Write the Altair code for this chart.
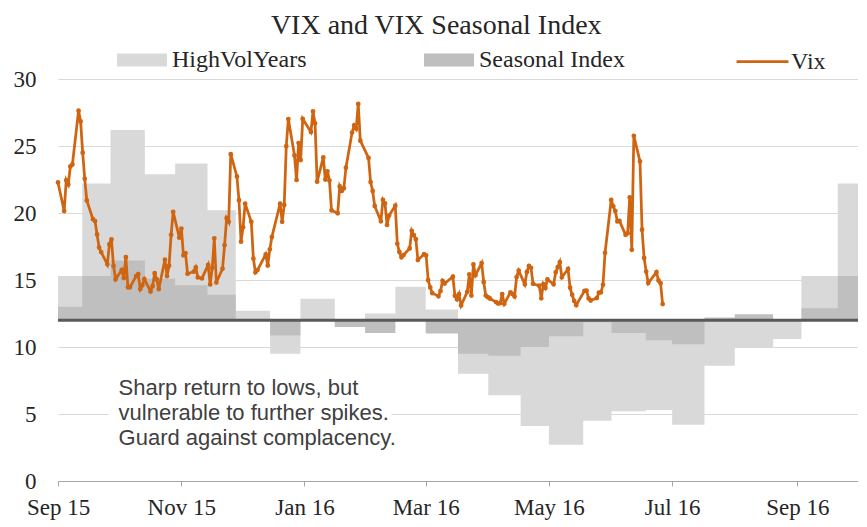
import altair as alt
import pandas as pd

# ---------------- data ----------------
# step edges for the seasonal bands (26 half-monthly steps)
band_edges = ["2015-09-01", "2015-09-13", "2015-09-27", "2015-10-14", "2015-10-29",
              "2015-11-14", "2015-11-28", "2015-12-15", "2015-12-30", "2016-01-16",
              "2016-01-31", "2016-02-15", "2016-03-01", "2016-03-17", "2016-04-01",
              "2016-04-17", "2016-05-01", "2016-05-18", "2016-06-01", "2016-06-18",
              "2016-07-01", "2016-07-17", "2016-08-01", "2016-08-20", "2016-09-03",
              "2016-09-21", "2016-10-01"]
high_vol = [15.3, 22.2, 26.2, 22.9, 23.7, 20.2, 12.7, 9.5, 13.6, 11.8,
            12.5, 14.5, 12.8, 8.0, 6.4, 4.1, 2.7, 4.5, 5.2, 5.3,
            4.2, 8.6, 10.0, 10.6, 15.3, 22.2]
seasonal = [13.0, 15.3, 16.45, 15.1, 14.6, 13.9, 12.0, 10.85, 12.0, 11.5,
            11.05, 12.0, 11.0, 9.5, 9.35, 10.0, 10.8, 11.85, 11.05, 10.5,
            10.2, 12.2, 12.45, 12.0, 12.9, 15.3]

vix_dates = [
    "2015-09-18", "2015-09-21", "2015-09-22", "2015-09-23", "2015-09-24", "2015-09-25",
    "2015-09-28", "2015-09-29", "2015-09-30",
    "2015-10-01", "2015-10-02", "2015-10-05", "2015-10-06", "2015-10-07", "2015-10-08",
    "2015-10-09", "2015-10-12", "2015-10-13", "2015-10-14", "2015-10-15", "2015-10-16",
    "2015-10-19", "2015-10-20", "2015-10-21", "2015-10-22", "2015-10-23", "2015-10-26",
    "2015-10-27", "2015-10-28", "2015-10-29", "2015-10-30",
    "2015-11-02", "2015-11-03", "2015-11-04", "2015-11-05", "2015-11-06", "2015-11-09",
    "2015-11-10", "2015-11-11", "2015-11-12", "2015-11-13", "2015-11-16", "2015-11-17",
    "2015-11-18", "2015-11-19", "2015-11-20", "2015-11-23", "2015-11-24", "2015-11-25",
    "2015-11-27", "2015-11-30",
    "2015-12-01", "2015-12-02", "2015-12-03", "2015-12-04", "2015-12-07", "2015-12-08",
    "2015-12-09", "2015-12-10", "2015-12-11", "2015-12-14", "2015-12-15", "2015-12-16",
    "2015-12-17", "2015-12-18", "2015-12-21", "2015-12-22", "2015-12-23", "2015-12-24",
    "2015-12-28", "2015-12-29", "2015-12-30", "2015-12-31",
    "2016-01-04", "2016-01-05", "2016-01-06", "2016-01-07", "2016-01-08", "2016-01-11",
    "2016-01-12", "2016-01-13", "2016-01-14", "2016-01-15", "2016-01-19", "2016-01-20",
    "2016-01-21", "2016-01-22", "2016-01-25", "2016-01-26", "2016-01-27", "2016-01-28",
    "2016-01-29",
    "2016-02-01", "2016-02-02", "2016-02-03", "2016-02-04", "2016-02-05", "2016-02-08",
    "2016-02-09", "2016-02-10", "2016-02-11", "2016-02-12", "2016-02-16", "2016-02-17",
    "2016-02-18", "2016-02-19", "2016-02-22", "2016-02-23", "2016-02-24", "2016-02-25",
    "2016-02-26", "2016-02-29",
    "2016-03-01", "2016-03-02", "2016-03-03", "2016-03-04", "2016-03-07", "2016-03-08",
    "2016-03-09", "2016-03-10", "2016-03-11", "2016-03-14", "2016-03-15", "2016-03-16",
    "2016-03-17", "2016-03-18", "2016-03-21", "2016-03-22", "2016-03-23", "2016-03-24",
    "2016-03-28", "2016-03-29", "2016-03-30", "2016-03-31",
    "2016-04-01", "2016-04-04", "2016-04-05", "2016-04-06", "2016-04-07", "2016-04-08",
    "2016-04-11", "2016-04-12", "2016-04-13", "2016-04-14", "2016-04-15", "2016-04-18",
    "2016-04-19", "2016-04-20", "2016-04-21", "2016-04-22", "2016-04-25", "2016-04-26",
    "2016-04-27", "2016-04-28", "2016-04-29",
    "2016-05-02", "2016-05-03", "2016-05-04", "2016-05-05", "2016-05-06", "2016-05-09",
    "2016-05-10", "2016-05-11", "2016-05-12", "2016-05-13", "2016-05-16", "2016-05-17",
    "2016-05-18", "2016-05-19", "2016-05-20", "2016-05-23", "2016-05-24", "2016-05-25",
    "2016-05-26", "2016-05-27", "2016-05-31",
    "2016-06-01", "2016-06-02", "2016-06-03", "2016-06-06", "2016-06-07", "2016-06-08",
    "2016-06-09", "2016-06-10", "2016-06-13", "2016-06-14", "2016-06-15", "2016-06-16",
    "2016-06-17", "2016-06-20", "2016-06-21", "2016-06-22", "2016-06-23", "2016-06-24",
    "2016-06-27", "2016-06-28", "2016-06-29", "2016-06-30",
    "2016-07-01", "2016-07-05", "2016-07-06", "2016-07-07", "2016-07-08",
]
vix_values = [
    22.28, 20.14, 22.44, 22.13, 23.47, 23.62, 27.63, 26.83, 24.50,
    22.55, 20.94, 19.54, 19.40, 18.40, 17.42, 17.08, 16.17, 17.67, 18.03, 16.05, 15.05,
    15.75, 15.14, 16.70, 14.45, 14.46, 15.29, 15.43, 14.33, 14.61, 15.07,
    14.15, 14.54, 15.51, 15.05, 14.33, 16.52, 15.29, 16.06, 18.37, 20.08, 18.16, 18.84,
    16.85, 16.99, 15.47, 15.62, 15.93, 15.19, 15.12, 16.13,
    14.67, 15.91, 18.11, 14.81, 15.84, 17.60, 19.61, 19.34, 24.39, 22.73, 20.95, 17.86,
    18.94, 20.70, 19.34, 16.60, 15.57, 15.74, 16.91, 16.08, 17.29, 18.21,
    20.70, 19.34, 20.59, 24.99, 27.01, 24.30, 22.47, 25.22, 23.95, 27.02, 26.05, 27.59,
    26.69, 22.34, 24.15, 22.50, 23.11, 22.42, 20.20,
    19.98, 21.98, 21.65, 21.84, 23.38, 26.00, 26.54, 26.29, 28.14, 25.40, 24.11, 22.31,
    21.64, 20.53, 19.38, 20.98, 20.72, 19.11, 19.81, 20.55,
    17.70, 17.09, 16.70, 16.86, 17.35, 18.67, 18.34, 18.05, 16.50, 16.92, 16.84, 14.99,
    14.44, 14.02, 13.79, 14.17, 14.94, 14.74, 15.24, 13.82, 13.56, 13.95,
    13.10, 14.12, 15.42, 13.84, 16.16, 15.36, 16.26, 14.85, 13.84, 13.72, 13.62, 13.35,
    13.24, 13.28, 13.95, 13.22, 14.08, 13.96, 13.77, 15.22, 15.70,
    14.68, 15.60, 16.05, 15.91, 14.72, 14.57, 13.63, 14.69, 14.41, 15.04, 14.68, 15.57,
    15.95, 16.33, 15.20, 15.82, 14.42, 13.90, 13.43, 13.12, 14.19,
    14.20, 13.63, 13.47, 13.65, 14.05, 14.08, 14.64, 17.03, 20.97, 20.50, 20.14, 19.37,
    19.41, 18.37, 18.48, 21.17, 17.25, 25.76, 23.85, 18.75, 16.64, 15.63,
    14.77, 15.58, 14.96, 14.76, 13.20,
]

baseline_level = 12
y_ticks = [0, 5, 10, 15, 20, 25, 30]
x_tick_dates = ["2015-09-01", "2015-11-01", "2016-01-01", "2016-03-01",
                "2016-05-01", "2016-07-01", "2016-09-01"]
note_text = ["Sharp return to lows, but", "vulnerable to further spikes.",
             "Guard against complacency."]

# ---------------- tables ----------------
bands = pd.DataFrame({
    "date": pd.to_datetime(band_edges),
    "HighVolYears": high_vol + [high_vol[-1]],
    "Seasonal Index": seasonal + [seasonal[-1]],
}).melt(id_vars="date", var_name="series", value_name="value")
bands["base"] = baseline_level

vix = pd.DataFrame({"date": pd.to_datetime(vix_dates), "Vix": vix_values, "series": "Vix"})

SERIF = "Liberation Serif"
SANS = "Liberation Sans"
ORANGE = "#cf6511"

x_main = alt.Scale(domain=[alt.DateTime(year=2015, month=9, date=1),
                           alt.DateTime(year=2016, month=10, date=1)])
x_line = alt.Scale(domain=[alt.DateTime(year=2015, month=9, date=18),
                           alt.DateTime(year=2016, month=10, date=11)])
y_sc = alt.Scale(domain=[0, 30], nice=False, zero=False)
y_ax = alt.Axis(values=y_ticks, title=None)

fill_scale = alt.Scale(domain=["HighVolYears", "Seasonal Index"], range=["#d9d9d9", "#bfbfbf"])
fill_legend = alt.Legend(
    orient="none", legendX=59, legendY=-44, direction="horizontal", title=None,
    symbolType="M-1,-0.26H1V0.26H-1Z", symbolSize=2500, symbolStrokeWidth=0,
    symbolOpacity=1, labelFont=SERIF, labelFontSize=24, labelColor="#262626",
    labelOffset=5, columnPadding=117, padding=0, labelLimit=300,
)
x_axis = alt.Axis(
    values=[alt.DateTime(year=int(d[:4]), month=int(d[5:7]), date=1) for d in x_tick_dates],
    format="%b %y", title=None, grid=False, domainColor="#a6a6a6", tickColor="#a6a6a6",
    tickSize=5, labelPadding=10, labelFont=SERIF, labelFontSize=23, labelColor="#262626",
    labelFlush=False, labelOverlap=False,
)


def band_layer(name, show_axis):
    return alt.Chart(bands).transform_filter(alt.datum.series == name).mark_area(
        interpolate="step-after"
    ).encode(
        x=alt.X("date:T", scale=x_main, axis=x_axis if show_axis else None),
        y=alt.Y("value:Q", scale=y_sc, axis=y_ax, stack=None),
        y2="base:Q",
        fill=alt.Fill("series:N", scale=fill_scale, legend=fill_legend),
    )


hv_layer = band_layer("HighVolYears", True)
si_layer = band_layer("Seasonal Index", False)

rule = alt.Chart(pd.DataFrame({"level": [baseline_level]})).mark_rule(
    color="#595959", strokeWidth=3
).encode(y=alt.Y("level:Q", scale=y_sc, axis=y_ax))

note_box = alt.Chart(pd.DataFrame({
    "x0": pd.to_datetime(["2015-09-26"]), "x1": pd.to_datetime(["2016-02-13"]),
    "y0": [2.0], "y1": [8.0]})).mark_rect(color="white").encode(
    x=alt.X("x0:T", scale=x_main, axis=None), x2="x1:T",
    y=alt.Y("y0:Q", scale=y_sc, axis=y_ax), y2="y1:Q")

note = alt.Chart(pd.DataFrame({
    "d": pd.to_datetime(["2015-10-01"]), "v": [6.95], "t": ["\n".join(note_text)]})).mark_text(
    align="left", baseline="middle", font=SANS, fontSize=22, lineHeight=25, color="#404040",
    lineBreak="\n",
).encode(x=alt.X("d:T", scale=x_main, axis=None), y=alt.Y("v:Q", scale=y_sc, axis=y_ax), text="t:N")

line = alt.Chart(vix).mark_line(
    strokeWidth=2.75, point=alt.OverlayMarkDef(size=8, filled=True, color=ORANGE)
).encode(
    x=alt.X("date:T", scale=x_line, axis=None),
    y=alt.Y("Vix:Q", scale=y_sc, axis=y_ax),
    stroke=alt.Stroke("series:N", scale=alt.Scale(domain=["Vix"], range=[ORANGE]),
                      legend=alt.Legend(orient="none", legendX=677, legendY=-45, title=None,
                                        symbolType="stroke", symbolSize=2700,
                                        symbolStrokeWidth=2.75, labelFont=SERIF,
                                        labelFontSize=24, labelColor="#262626",
                                        labelOffset=1, padding=0)),
)

chart = alt.layer(hv_layer, si_layer, note_box, note, rule, line).resolve_scale(
    x="independent"
).properties(
    width=800, height=402,
    autosize=alt.AutoSizeParams(type="none"),
    padding={"left": 50, "top": 71, "right": 0, "bottom": 40},
    title=alt.TitleParams("VIX and VIX Seasonal Index", font=SERIF, fontSize=28,
                          fontWeight="normal", color="#262626", anchor="middle",
                          frame="bounds", offset=6, dy=12),
).configure_view(stroke=None).configure_axisY(
    grid=True, gridColor="#d9d9d9", gridWidth=1, domain=False, ticks=False, tickSize=0,
    labelPadding=22, labelFont=SERIF, labelFontSize=23, labelColor="#262626",
)

chart.save("out.html", embed_options={"renderer": "svg", "actions": False})
